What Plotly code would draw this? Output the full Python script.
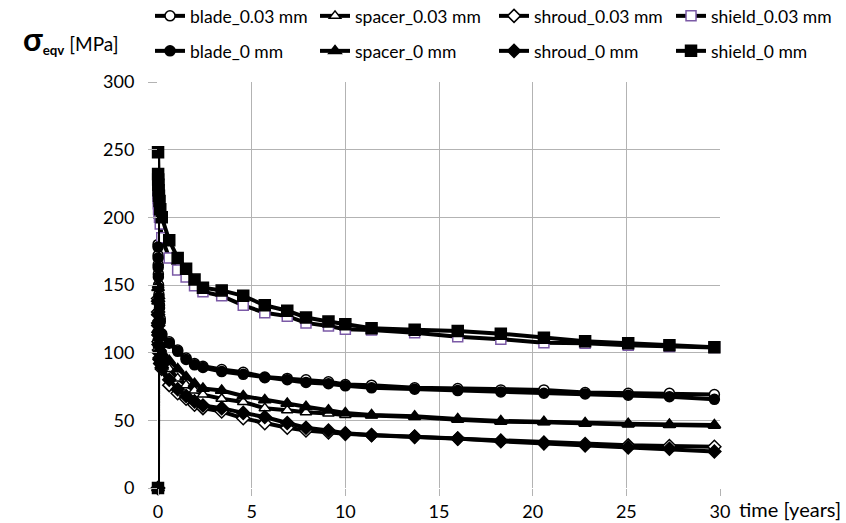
import plotly.graph_objects as go

time_years = [0, 0.003, 0.006, 0.01, 0.02, 0.03, 0.05, 0.08, 0.12, 0.2, 0.6, 1.05, 1.5, 1.95, 2.4,
              3.4, 4.55, 5.7, 6.9, 7.9, 9.1, 10.0, 11.4, 13.7, 16.0, 18.3, 20.6, 22.8, 25.1, 27.3, 29.7]

blade_003 = [0, 180, 172, 165, 158, 150, 143, 135, 125, 114, 108, 102, 96, 92, 90,
             87.5, 85.5, 82, 81, 80, 78.5, 76.5, 76, 74, 73.5, 72.5, 72.5, 70.5, 70, 70, 69]
spacer_003 = [0, 150, 140, 132, 125, 118, 112, 106, 102, 97, 88, 81, 76, 72, 69,
              66, 63.5, 59, 57.5, 56, 55, 54, 53.5, 52.5, 50.5, 49, 48.5, 47.5, 47, 46.5, 46]
shroud_003 = [0, 140, 130, 122, 115, 108, 102, 96, 92, 88, 76, 70, 66, 61.5, 59,
              56.5, 51.5, 47.8, 44.5, 42.5, 41, 40, 39, 37.8, 36.5, 35, 33.5, 32.5, 31.5, 31, 30.5]
shield_003 = [0, 225, 218, 214, 210, 206, 203, 200, 195, 185, 170, 161, 156, 149.5, 145,
              142, 135, 129.5, 127, 122, 119.7, 117.3, 116.8, 114.8, 111.8, 110, 107.4, 106.9, 105.5, 104.5, 103.8]
blade_0 = [0, 178, 170, 163, 156, 148, 141, 133, 123, 113, 107, 101, 95, 91, 89,
           86, 84, 81.5, 80, 78, 77, 75.5, 74, 73, 72, 71, 70, 69.5, 68.5, 67.5, 65.5]
spacer_0 = [0, 148, 138, 130, 123, 117, 111, 106, 103, 100, 94, 88, 82, 77, 73.5,
            72, 68, 65, 62.5, 60, 57.5, 55.5, 54, 53, 51, 49.5, 49, 48, 47.5, 47, 46.5]
shroud_0 = [0, 138, 128, 120, 113, 106, 100, 95, 92, 89, 80, 73, 68, 64, 61,
            59, 55.5, 52.5, 48, 44.5, 42.5, 40.5, 39.2, 38, 36.5, 34.5, 33, 31.5, 30, 29, 27]
shield_0 = [0, 248, 232, 228, 224, 220, 216, 212, 206, 200, 183, 170, 162, 154, 148,
            146, 142, 135, 131, 126, 123, 121, 118, 117, 116, 114, 111, 108.5, 107, 105.5, 104]

names = ["blade_0.03 mm", "spacer_0.03 mm", "shroud_0.03 mm", "shield_0.03 mm",
         "blade_0 mm", "spacer_0 mm", "shroud_0 mm", "shield_0 mm"]
series = [blade_003, spacer_003, shroud_003, shield_003, blade_0, spacer_0, shroud_0, shield_0]
symbols = ["circle", "triangle-up", "diamond", "square",
           "circle", "triangle-up", "diamond", "square"]
fills = ["white", "white", "white", "white", "black", "black", "black", "black"]
edges = ["black", "black", "black", "#7b5aa6", "black", "black", "black", "black"]
sizes = [10, 10, 10, 10, 10, 11, 10, 11]
legends = ["legend", "legend", "legend", "legend", "legend2", "legend2", "legend2", "legend2"]
entry_widths = [120, 134, 132, 124, 120, 134, 132, 124]

FONT = "Lato, 'Open Sans', sans-serif"

fig = go.Figure()
for name, ys, sym, fc, ec, sz, lg, ew in zip(names, series, symbols, fills, edges, sizes, legends, entry_widths):
    fig.add_trace(go.Scatter(
        x=time_years, y=ys, name=name, mode="lines+markers", legend=lg, legendwidth=ew,
        line=dict(color="black", width=4),
        marker=dict(symbol=sym, size=sz, color=fc, line=dict(color=ec, width=1.5)),
        cliponaxis=False,
    ))

grid = "#b3b3b3"
leg_common = dict(orientation="h", xanchor="left", yanchor="middle",
                  font=dict(size=17.5, family=FONT), entrywidthmode="pixels",
                  itemwidth=30, bgcolor="rgba(0,0,0,0)", tracegroupgap=0)
fig.update_layout(
    width=846, height=523,
    margin=dict(l=158, r=126, t=82, b=35, autoexpand=False),
    paper_bgcolor="white", plot_bgcolor="white",
    font=dict(family=FONT, color="black"),
    xaxis=dict(range=[0, 30], dtick=5, tick0=0, showgrid=True, gridcolor=grid, gridwidth=1.3,
               zeroline=False, showline=False, ticks="outside", ticklen=7, tickcolor=grid,
               tickwidth=1.3, tickfont=dict(size=18, family=FONT)),
    yaxis=dict(range=[0, 300], dtick=50, tick0=0, showgrid=True, gridcolor=grid, gridwidth=1.3,
               zeroline=False, showline=False, ticks="outside", ticklen=9, tickcolor=grid,
               tickwidth=1.3, tickfont=dict(size=18, family=FONT), ticklabelstandoff=10),
    legend=dict(x=-0.0142, y=1.1626, **leg_common),
    legend2=dict(x=-0.0142, y=1.0764, **leg_common),
    showlegend=True,
    annotations=[
        dict(text="<b><span style='font-size:32px'>σ</span></b><sub><b>eqv</b></sub> [MPa]",
             xref="paper", yref="paper",
             x=-0.244, y=1.108, xanchor="left", yanchor="middle", showarrow=False,
             font=dict(size=19, family=FONT)),
        dict(text="time [years]", xref="paper", yref="paper",
             x=1.031, y=-0.052, xanchor="left", yanchor="middle", showarrow=False,
             font=dict(size=20, family=FONT)),
    ],
)

fig.write_html("out.html", config={"displayModeBar": False},
               post_script="document.body.style.margin='0px';")
